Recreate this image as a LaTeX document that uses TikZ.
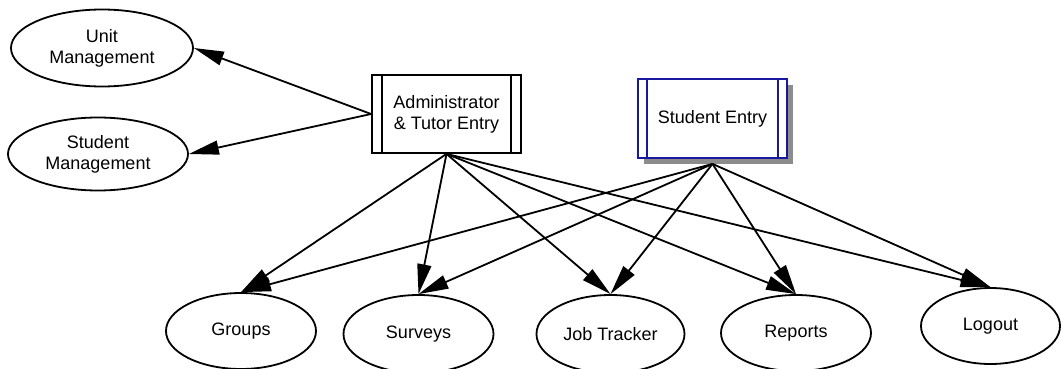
\documentclass[tikz,border=0pt]{standalone}
\usepackage{fontspec}
\setmainfont{Liberation Sans}
\usepackage{xcolor}
\usepackage{tikz}
\usetikzlibrary{arrows.meta,shapes.geometric,shadows}
\definecolor{entryblue}{RGB}{25,25,160}

\begin{document}
\begin{tikzpicture}[x=1pt,y=-1pt,>={Triangle[length=30pt,width=14pt]},font=\fontsize{18}{21}\selectfont]
\tikzstyle{page}=[draw, ellipse, line width=1.8pt, inner sep=0pt, align=center, minimum width=150pt, minimum height=76pt]
\tikzstyle{entry}=[draw, rectangle, line width=1.8pt, align=center, minimum width=149pt, minimum height=78pt,
  path picture={\draw[line width=1.8pt] ([xshift=10pt]path picture bounding box.north west) -- ([xshift=10pt]path picture bounding box.south west);
                \draw[line width=1.8pt] ([xshift=-10pt]path picture bounding box.north east) -- ([xshift=-10pt]path picture bounding box.south east);}]
\tikzstyle{link}=[->, line width=1.8pt]
\useasboundingbox (0,0) rectangle (1061,369);
\node[page, minimum width=182pt, minimum height=77pt] (unit) at (102,48) {Unit\\Management};
\node[page, minimum width=180pt, minimum height=73pt] (smgmt) at (98,154) {Student\\Management};
\node[entry] (admin) at (446.5,114) {Administrator\\\& Tutor Entry};
\node[entry, draw=entryblue, minimum height=79pt, fill=white,
  drop shadow={shadow xshift=6pt, shadow yshift=-6pt, fill=black!45, opacity=1},
  path picture={\draw[entryblue, line width=1.8pt] ([xshift=9pt]path picture bounding box.north west) -- ([xshift=9pt]path picture bounding box.south west);
                \draw[entryblue, line width=1.8pt] ([xshift=-9pt]path picture bounding box.north east) -- ([xshift=-9pt]path picture bounding box.south east);}] (stud) at (712.5,118.5) {Student Entry};
\node[page] (groups) at (241,331) {Groups};
\node[page, minimum height=78pt] (surveys) at (418.5,334) {Surveys};
\node[page, minimum width=148pt, minimum height=78pt] (job) at (610.5,334) {Job Tracker};
\node[page] (reports) at (796,333) {Reports};
\node[page, minimum width=139pt] (logout) at (990.5,326) {Logout};

\draw[link] (admin.west) -- (unit.east);
\draw[link] (admin.west) -- (smgmt.east);
\draw[link] (admin.south) -- (groups.north);
\draw[link] (admin.south) -- (surveys.north);
\draw[link] (admin.south) -- (job.north);
\draw[link] (admin.south) -- (reports.north);
\draw[link] (admin.south) -- (logout.north);
\draw[link] ([yshift=-5pt]stud.south) -- (groups.north);
\draw[link] ([yshift=-5pt]stud.south) -- (surveys.north);
\draw[link] ([yshift=-5pt]stud.south) -- (job.north);
\draw[link] ([yshift=-5pt]stud.south) -- (reports.north);
\draw[link] ([yshift=-5pt]stud.south) -- (logout.north);
\end{tikzpicture}
\end{document}
